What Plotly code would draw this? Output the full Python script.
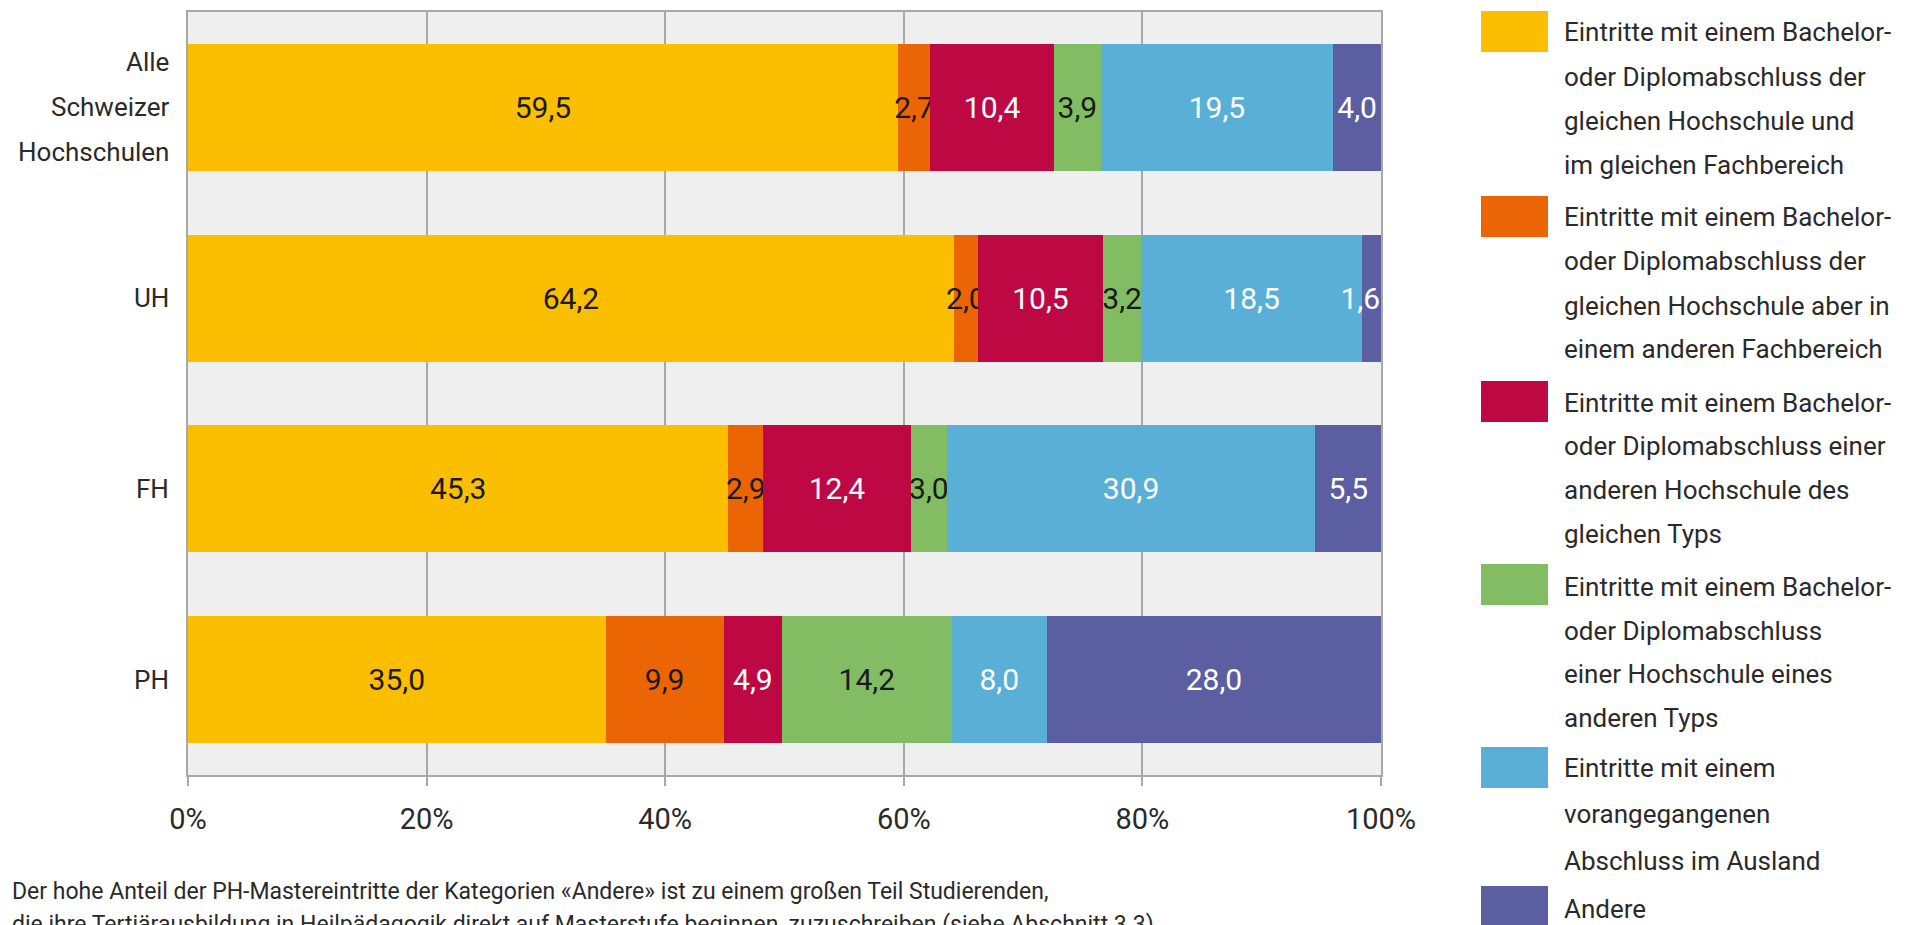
import plotly.graph_objects as go

categories = ["Alle Schweizer Hochschulen", "UH", "FH", "PH"]
category_label_lines = [["Alle", "Schweizer", "Hochschulen"], ["UH"], ["FH"], ["PH"]]

gleiche_hs_gleicher_fb = [59.5, 64.2, 45.3, 35.0]
gleiche_hs_anderer_fb = [2.7, 2.0, 2.9, 9.9]
andere_hs_gleicher_typ = [10.4, 10.5, 12.4, 4.9]
andere_hs_anderer_typ = [3.9, 3.2, 3.0, 14.2]
ausland = [19.5, 18.5, 30.9, 8.0]
andere = [4.0, 1.6, 5.5, 28.0]

series_values = [gleiche_hs_gleicher_fb, gleiche_hs_anderer_fb, andere_hs_gleicher_typ,
                 andere_hs_anderer_typ, ausland, andere]

legend_lines = [
    ["Eintritte mit einem Bachelor-", "oder Diplomabschluss der", "gleichen Hochschule und", "im gleichen Fachbereich"],
    ["Eintritte mit einem Bachelor-", "oder Diplomabschluss der", "gleichen Hochschule aber in", "einem anderen Fachbereich"],
    ["Eintritte mit einem Bachelor-", "oder Diplomabschluss einer", "anderen Hochschule des", "gleichen Typs"],
    ["Eintritte mit einem Bachelor-", "oder Diplomabschluss", "einer Hochschule eines", "anderen Typs"],
    ["Eintritte mit einem", "vorangegangenen", "Abschluss im Ausland"],
    ["Andere"],
]
series_names = [" ".join(l) for l in legend_lines]

x_ticks = [0, 20, 40, 60, 80, 100]
x_ticklabels = ["0%", "20%", "40%", "60%", "80%", "100%"]

note_lines = [
    "Der hohe Anteil der PH-Mastereintritte der Kategorien «Andere» ist zu einem großen Teil Studierenden,",
    "die ihre Tertiärausbildung in Heilpädagogik direkt auf Masterstufe beginnen, zuzuschreiben (siehe Abschnitt 3.3).",
]

# styling
colors = ["#FBBE00", "#EC6504", "#BD0844", "#83BD63", "#59AFD5", "#5B5EA0"]
text_colors = ["#1a1a1a", "#1a1a1a", "#ffffff", "#1a1a1a", "#ffffff", "#ffffff"]
FONT = "Roboto, Liberation Sans, Arial, sans-serif"
TXT = "#2a2a2a"
GRID = "#A8A8A8"

OFF = 8  # page body margin
W, H = 1915 - OFF, 925 - OFF
L, R, T, B = 188, 1381, 12, 775  # plot area in reference pixels


def px(x):
    return (x - L) / (R - L)


def py(y):
    return (B - y) / (B - T)


fig = go.Figure()
n_series = len(series_values)
for s, (vals, name, col, tcol) in enumerate(zip(series_values, series_names, colors, text_colors)):
    # the label of a very thin last segment is kept inside the axis end (as in the original)
    if s == n_series - 1:
        templates = ["%{x:.1f}" + ("\u00a0\u00a0\u00a0" if v < 3 else "") for v in vals]
    else:
        templates = "%{x:.1f}"
    fig.add_trace(go.Bar(
        y=categories, x=vals, orientation="h", name=name,
        marker=dict(color=col, line=dict(width=0)),
        texttemplate=templates, textposition="inside", insidetextanchor="middle",
        constraintext="none", textangle=0,
        textfont=dict(family=FONT, size=30, color=tcol),
        showlegend=False,
    ))

shapes = []
annotations = []

# category labels (left of the bars)
for cat, lines in zip(categories, category_label_lines):
    n = len(lines)
    for k, txt in enumerate(lines):
        annotations.append(dict(xref="paper", yref="y", x=px(171), y=cat,
                                xanchor="right", yanchor="middle", text=txt, showarrow=False,
                                yshift=-(k - (n - 1) / 2) * 45,
                                font=dict(family=FONT, size=26, color=TXT)))

# legend
line_y = [
    [32, 77, 121, 165],
    [217, 261, 306, 349],
    [403, 446, 490, 534],
    [587, 631, 674, 718],
    [768, 814, 861],
    [909],
]
swatch_top = [11, 196, 381, 564, 747, 886]
for i, lines in enumerate(legend_lines):
    shapes.append(dict(type="rect", xref="paper", yref="paper",
                       x0=px(1481), x1=px(1548), y0=py(swatch_top[i]), y1=py(swatch_top[i] + 41),
                       fillcolor=colors[i], line=dict(width=0), layer="above"))
    for j, txt in enumerate(lines):
        annotations.append(dict(xref="paper", yref="paper", x=px(1562), y=py(line_y[i][j]),
                                xanchor="left", yanchor="middle", text=txt, showarrow=False,
                                font=dict(family=FONT, size=26, color=TXT)))

note_y = [891, 924]
for j, txt in enumerate(note_lines):
    annotations.append(dict(xref="paper", yref="paper", x=px(10), y=py(note_y[j]),
                            xanchor="left", yanchor="middle", text=txt, showarrow=False,
                            font=dict(family=FONT, size=23, color=TXT)))

fig.update_layout(
    template="none",
    width=W, height=H,
    margin=dict(l=L - OFF, r=W - (R - OFF), t=T - OFF, b=H - (B - OFF), pad=0),
    barmode="stack", bargap=0.333,
    plot_bgcolor="#EFEFEF", paper_bgcolor="#FFFFFF",
    separators=", ",
    font=dict(family=FONT, size=26, color=TXT),
    shapes=shapes, annotations=annotations,
    xaxis=dict(range=[0, 100], tickvals=x_ticks, ticktext=x_ticklabels,
               automargin=False,
               showgrid=True, gridcolor=GRID, gridwidth=2,
               showline=True, linecolor=GRID, linewidth=2, mirror=True,
               ticks="outside", ticklen=9, tickwidth=2, tickcolor=GRID,
               ticklabelstandoff=8, zeroline=False,
               tickfont=dict(family=FONT, size=29, color=TXT)),
    yaxis=dict(autorange="reversed", showgrid=False, automargin=False,
               showline=True, linecolor=GRID, linewidth=2, mirror=True,
               ticks="", showticklabels=False, zeroline=False),
)

fig.write_html("out.html")
